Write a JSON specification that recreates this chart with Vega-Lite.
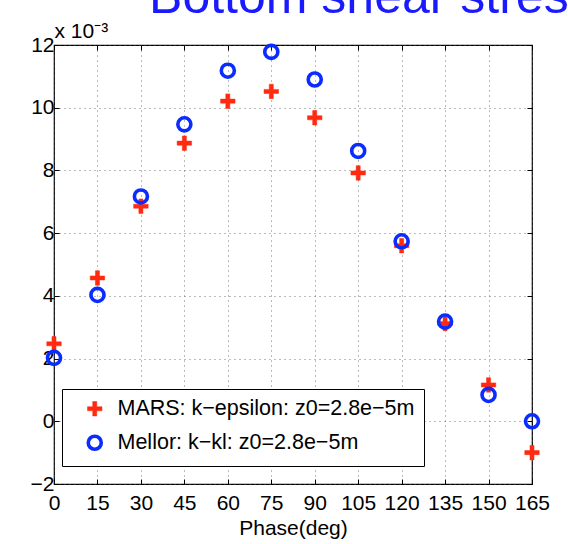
{
  "$schema": "https://vega.github.io/schema/vega-lite/v6.json",
  "autosize": {"type": "none"},
  "width": 478,
  "height": 439,
  "padding": {"left": 54, "top": 45, "right": 36, "bottom": 60},
  "background": "white",
  "title": {
    "text": "Bottom shear stress",
    "anchor": "start",
    "dx": 119,
    "dy": 43,
    "offset": 0,
    "baseline": "alphabetic",
    "fontSize": 50,
    "font": "Liberation Sans",
    "fontWeight": "normal",
    "color": "#1a1aff"
  },
  "data": {
    "values": [
      {"phase": 0, "stress": 2.47, "series": "MARS: k−epsilon: z0=2.8e−5m"},
      {"phase": 15, "stress": 4.57, "series": "MARS: k−epsilon: z0=2.8e−5m"},
      {"phase": 30, "stress": 6.86, "series": "MARS: k−epsilon: z0=2.8e−5m"},
      {"phase": 45, "stress": 8.87, "series": "MARS: k−epsilon: z0=2.8e−5m"},
      {"phase": 60, "stress": 10.21, "series": "MARS: k−epsilon: z0=2.8e−5m"},
      {"phase": 75, "stress": 10.52, "series": "MARS: k−epsilon: z0=2.8e−5m"},
      {"phase": 90, "stress": 9.68, "series": "MARS: k−epsilon: z0=2.8e−5m"},
      {"phase": 105, "stress": 7.92, "series": "MARS: k−epsilon: z0=2.8e−5m"},
      {"phase": 120, "stress": 5.6, "series": "MARS: k−epsilon: z0=2.8e−5m"},
      {"phase": 135, "stress": 3.12, "series": "MARS: k−epsilon: z0=2.8e−5m"},
      {"phase": 150, "stress": 1.16, "series": "MARS: k−epsilon: z0=2.8e−5m"},
      {"phase": 165, "stress": -1.0, "series": "MARS: k−epsilon: z0=2.8e−5m"},
      {"phase": 0, "stress": 2.02, "series": "Mellor: k−kl: z0=2.8e−5m"},
      {"phase": 15, "stress": 4.03, "series": "Mellor: k−kl: z0=2.8e−5m"},
      {"phase": 30, "stress": 7.17, "series": "Mellor: k−kl: z0=2.8e−5m"},
      {"phase": 45, "stress": 9.47, "series": "Mellor: k−kl: z0=2.8e−5m"},
      {"phase": 60, "stress": 11.18, "series": "Mellor: k−kl: z0=2.8e−5m"},
      {"phase": 75, "stress": 11.78, "series": "Mellor: k−kl: z0=2.8e−5m"},
      {"phase": 90, "stress": 10.9, "series": "Mellor: k−kl: z0=2.8e−5m"},
      {"phase": 105, "stress": 8.62, "series": "Mellor: k−kl: z0=2.8e−5m"},
      {"phase": 120, "stress": 5.74, "series": "Mellor: k−kl: z0=2.8e−5m"},
      {"phase": 135, "stress": 3.18, "series": "Mellor: k−kl: z0=2.8e−5m"},
      {"phase": 150, "stress": 0.84, "series": "Mellor: k−kl: z0=2.8e−5m"},
      {"phase": 165, "stress": 0.0, "series": "Mellor: k−kl: z0=2.8e−5m"}
    ]
  },
  "resolve": {"axis": {"x": "independent", "y": "independent"}},
  "layer": [
    {
      "mark": {"type": "point", "opacity": 1},
      "encoding": {
        "x": {
          "field": "phase", "type": "quantitative",
          "scale": {"domain": [0, 165], "nice": false, "zero": false},
          "axis": {"values": [0,15,30,45,60,75,90,105,120,135,150,165], "title": "Phase(deg)", "labelPadding": 13, "titlePadding": 4, "labelFlush": false}
        },
        "y": {
          "field": "stress", "type": "quantitative",
          "scale": {"domain": [-2, 12], "nice": false, "zero": false},
          "axis": {"values": [-2,0,2,4,6,8,10,12], "labelPadding": 5, "labelFlush": false,
                   "labelExpr": "datum.value < 0 ? '−' + abs(datum.value) : datum.label",
                   "title": "x 10⁻³", "titleAngle": 0, "titleX": 0, "titleY": -8, "titleAlign": "left", "titleBaseline": "alphabetic", "titleFontSize": 21}
        },
        "shape": {
          "field": "series", "type": "nominal", "sort": null,
          "scale": {"domain": ["MARS: k−epsilon: z0=2.8e−5m", "Mellor: k−kl: z0=2.8e−5m"],
                    "range": ["M-1,-0.28H-0.28V-1H0.28V-0.28H1V0.28H0.28V1H-0.28V0.28H-1Z", "circle"]},
          "legend": {"title": null}
        },
        "fill": {
          "field": "series", "type": "nominal", "sort": null,
          "scale": {"domain": ["MARS: k−epsilon: z0=2.8e−5m", "Mellor: k−kl: z0=2.8e−5m"], "range": ["#ff2a10", "transparent"]},
          "legend": {"title": null}
        },
        "stroke": {
          "field": "series", "type": "nominal", "sort": null,
          "scale": {"domain": ["MARS: k−epsilon: z0=2.8e−5m", "Mellor: k−kl: z0=2.8e−5m"], "range": ["#ff2a10", "#0a2cff"]},
          "legend": {"title": null}
        },
        "strokeWidth": {
          "field": "series", "type": "nominal", "sort": null,
          "scale": {"domain": ["MARS: k−epsilon: z0=2.8e−5m", "Mellor: k−kl: z0=2.8e−5m"], "range": [0.5, 3.6]},
          "legend": {"title": null}
        },
        "size": {
          "field": "series", "type": "nominal", "sort": null,
          "scale": {"domain": ["MARS: k−epsilon: z0=2.8e−5m", "Mellor: k−kl: z0=2.8e−5m"], "range": [210, 170]},
          "legend": {"title": null}
        }
      }
    },
    {
      "mark": {"type": "point", "opacity": 0},
      "encoding": {
        "x": {"field": "phase", "type": "quantitative",
              "axis": {"orient": "top", "values": [0,15,30,45,60,75,90,105,120,135,150,165], "labels": false, "title": null, "grid": false}},
        "y": {"field": "stress", "type": "quantitative",
              "axis": {"orient": "right", "values": [-2,0,2,4,6,8,10,12], "labels": false, "title": null, "grid": false}}
      }
    }
  ],
  "config": {
    "font": "Liberation Sans",
    "view": {"stroke": "black", "strokeWidth": 1.2},
    "axis": {
      "labelFont": "Liberation Sans",
      "titleFont": "Liberation Sans",
      "labelFontSize": 21,
      "titleFontSize": 21,
      "labelColor": "black",
      "titleColor": "black",
      "titleFontWeight": "normal",
      "domain": false,
      "tickColor": "black",
      "tickSize": -5,
      "tickWidth": 1,
      "grid": true,
      "gridColor": "#555",
      "gridDash": [1, 4],
      "gridWidth": 1,
      "gridOpacity": 0.8
    },
    "legend": {
      "orient": "none",
      "legendX": 8,
      "legendY": 344,
      "strokeColor": "black",
      "fillColor": "white",
      "padding": 9,
      "labelFont": "Liberation Sans",
      "labelFontSize": 21.5,
      "labelColor": "black",
      "rowPadding": 9,
      "labelOffset": 12,
      "symbolSize": 190,
      "symbolOffset": 13,
      "labelLimit": 400
    }
  }
}
